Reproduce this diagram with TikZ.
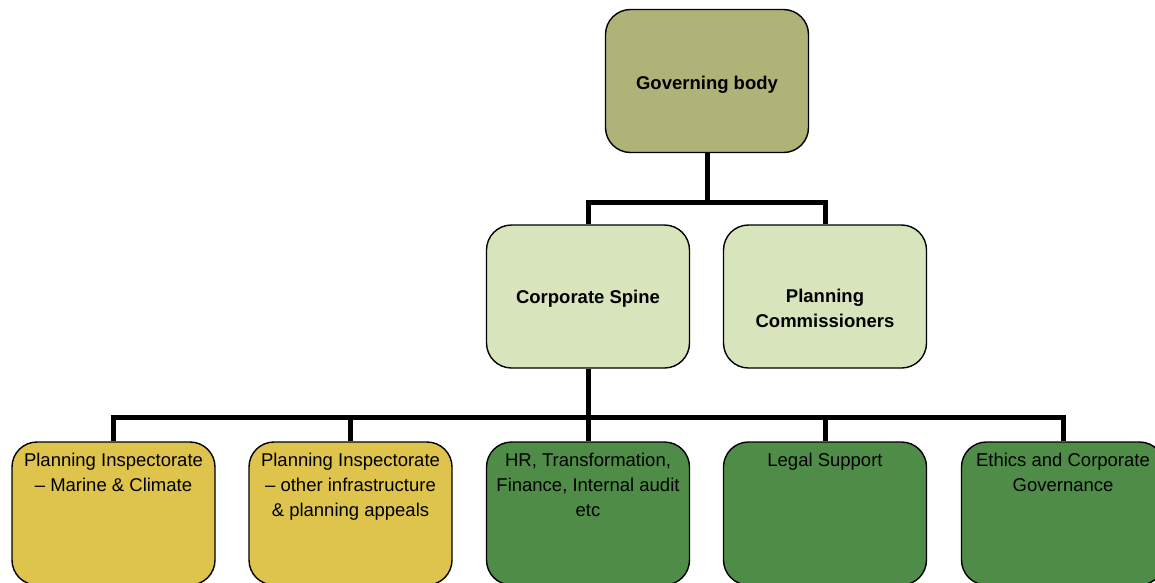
\documentclass[tikz,border=0pt]{standalone}
\usepackage{fontspec}
\setmainfont{Liberation Sans}
\usetikzlibrary{calc}
\definecolor{govc}{HTML}{AFB378}
\definecolor{midc}{HTML}{D8E4BC}
\definecolor{yelc}{HTML}{DEC44C}
\definecolor{grnc}{HTML}{4E8C47}
\tikzset{
  box/.style={draw=black, line width=1.4pt, rounded corners=25pt, minimum width=203pt, minimum height=143pt, inner sep=0pt, align=center, font=\fontsize{18.5}{25}\selectfont},
  midtext/.style={inner sep=0pt, align=center, font=\fontsize{18.5}{24.5}\selectfont\bfseries, text=black},
  toptext/.style={anchor=north, inner sep=0pt, align=center, font=\fontsize{18.5}{25}\selectfont, text=black},
  conn/.style={line width=5pt, draw=black}
}
\begin{document}
\begin{tikzpicture}[x=1pt,y=1pt]
\useasboundingbox (0,0) rectangle (1155,-582);
\clip (0,0) rectangle (1155,-582);
\fill[white] (0,0) rectangle (1155,-582);
% nodes
\node[box, fill=govc] (gov) at (707,-81) {};
\node[box, fill=midc] (cs) at (588,-296.5) {};
\node[box, fill=midc] (pc) at (825,-296.5) {};
\node[midtext] (tg) at ([yshift=-4pt]gov.center) {Governing body};
\node[midtext] (tc) at ([yshift=-2pt]cs.center) {Corporate Spine};
\node[midtext] (tp) at ([yshift=-12pt]pc.center) {Planning\\Commissioners};
\node[box, fill=yelc] (b1) at (113.5,-513.5) {};
\node[box, fill=yelc] (b2) at (350.5,-513.5) {};
\node[box, fill=grnc] (b3) at (588,-513.5) {};
\node[box, fill=grnc] (b4) at (825,-513.5) {};
\node[box, fill=grnc] (b5) at (1063,-513.5) {};
\node[toptext] (t1) at ([yshift=-12pt]b1.north) {Planning Inspectorate\\– Marine \& Climate};
\node[toptext] (t2) at ([yshift=-12pt]b2.north) {Planning Inspectorate\\– other infrastructure\\\& planning appeals};
\node[toptext] (t3) at ([yshift=-12pt]b3.north) {HR, Transformation,\\Finance, Internal audit\\etc};
\node[toptext] (t4) at ([yshift=-12pt]b4.north) {Legal Support};
\node[toptext] (t5) at ([yshift=-12pt]b5.north) {Ethics and Corporate\\Governance};
% connectors
\coordinate (j1) at (707,-202);
\coordinate (j2) at (588,-417);
\draw[conn] (gov.south) -- (j1);
\draw[conn] (j1) -| (cs.north);
\draw[conn] (j1) -| (pc.north);
\draw[conn] (cs.south) -- (j2);
\draw[conn] (j2) -| (b1.north);
\draw[conn] (j2) -| (b2.north);
\draw[conn] (j2) -- (b3.north);
\draw[conn] (j2) -| (b4.north);
\draw[conn] (j2) -| (b5.north);
\end{tikzpicture}
\end{document}
